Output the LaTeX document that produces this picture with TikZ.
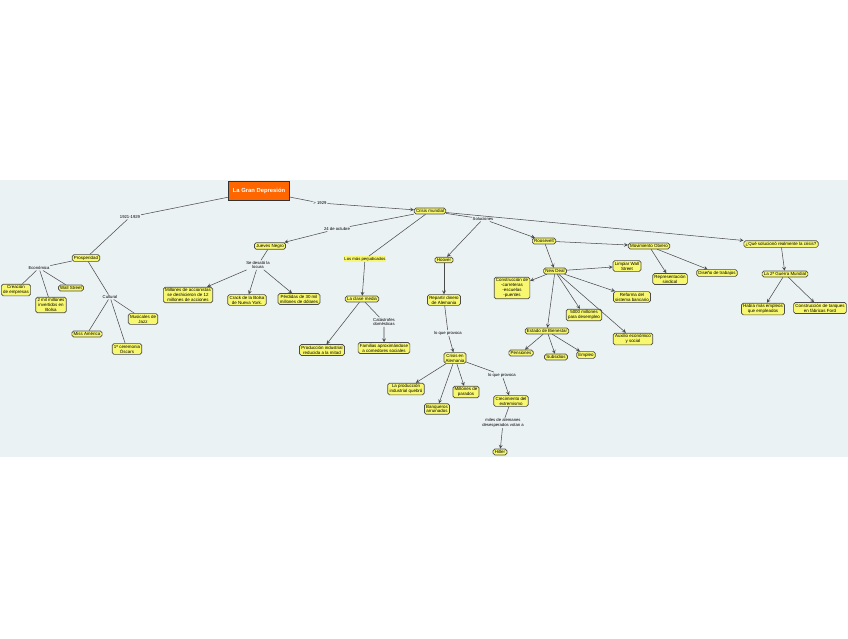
\documentclass[tikz,border=0pt]{standalone}
\usepackage{fontspec}
\setmainfont{Liberation Sans}
\usepackage{tikz}
\usetikzlibrary{positioning}

\definecolor{bgblue}{HTML}{EBF2F4}
\definecolor{conceptyellow}{HTML}{F8F870}
\definecolor{rootorange}{HTML}{FF6600}
\definecolor{edgegray}{HTML}{4A4A4A}

\tikzset{
  concept/.style={draw=black!70, fill=conceptyellow, rounded corners=1.5pt, line width=0.6pt,
    inner xsep=1.5pt, inner ysep=1.1pt, align=center, font=\fontsize{3.8}{4.2}\selectfont},
  linkword/.style={inner sep=0.6pt, align=center, font=\fontsize{3.6}{4.0}\selectfont},
  rootbox/.style={draw=black!80, fill=rootorange, text=white, line width=0.9pt,
    minimum width=52pt, minimum height=15.5pt, inner sep=1pt, font=\bfseries\fontsize{5}{6}\selectfont},
  link/.style={draw=edgegray, line width=0.45pt},
  linkarrow/.style={link, ->, >=stealth},
}

\begin{document}
\begin{tikzpicture}[on grid]
    \useasboundingbox (0,0) rectangle (25.44,-19.14);
    \fill[bgblue] (0,-5.40) rectangle (25.44,-13.71);

    \node[rootbox] (gran) at (7.77,-5.73) {La Gran Depresión};

    % prosperidad
    \node[linkword, below left=0.78cm and 3.87cm of gran] (anios) {1921-1929};
    \node[concept, below left=1.23cm and 1.32cm of anios] (prosp) {Prosperidad};
    \node[linkword, below left=0.30cm and 1.41cm of prosp] (econ) {Económica};
    \node[concept, below left=0.66cm and 0.69cm of econ] (creacion) {Creación\\de empresas};
    \node[concept, below right=1.11cm and 0.36cm of econ] (invert) {2 mil millones\\invertidos en\\Bolsa};
    \node[concept, below right=0.60cm and 0.96cm of econ] (wall) {Wall Street};
    \node[linkword, below right=1.17cm and 0.72cm of prosp] (cult) {Cultural};
    \node[concept, below left=1.11cm and 0.69cm of cult] (miss) {Miss América};
    \node[concept, below right=1.56cm and 0.51cm of cult] (oscars) {1ª ceremonia\\Óscars};
    \node[concept, below right=0.66cm and 0.99cm of cult] (jazz) {Musicales de\\Jazz};

    % crisis
    \node[linkword, below right=0.36cm and 1.83cm of gran] (despues) {> 1929};
    \node[concept, below right=0.24cm and 3.30cm of despues] (crisis) {Crisis mundial};
    \node[linkword, below left=0.54cm and 2.79cm of crisis] (octubre) {24 de octubre};
    \node[concept, below left=0.51cm and 2.01cm of octubre] (jueves) {Jueves Negro};
    \node[linkword, below left=0.57cm and 0.36cm of jueves] (locura) {Se desató la\\locura};
    \node[concept, below left=0.90cm and 2.10cm of locura] (accion) {Millones de accionistas\\se deshicieron de 12\\millones de acciones};
    \node[concept, below left=1.05cm and 0.33cm of locura] (crack) {Crack de la Bolsa\\de Nueva York.};
    \node[concept, below right=1.02cm and 1.23cm of locura] (perdidas) {Pérdidas de 30 mil\\millones de dólares};
    \node[linkword, fill=conceptyellow, below left=1.44cm and 1.95cm of crisis] (perjud) {Los más perjudicados};
    \node[concept, below left=1.20cm and 0.09cm of perjud] (clase) {La clase media};
    \node[concept, below left=1.53cm and 1.20cm of clase] (prod) {Producción industrial\\reducida a la mitad};
    \node[linkword, below right=0.69cm and 0.66cm of clase] (catast) {Catástrofes\\domésticas};
    \node[concept, below=0.78cm of catast] (familias) {Familias aproximándose\\a comedores sociales};

    % soluciones
    \node[linkword, below right=0.24cm and 1.59cm of crisis] (soluc) {Soluciones};
    \node[concept, below left=1.23cm and 1.17cm of soluc] (hoover) {Hoover};
    \node[concept, below=1.20cm of hoover] (repartir) {Repartir dinero\\de Alemania};
    \node[linkword, below right=0.99cm and 0.12cm of repartir] (provoca) {lo que provoca};
    \node[concept, below right=0.75cm and 0.21cm of provoca] (alemania) {Crisis en\\Alemania};
    \node[concept, below left=0.93cm and 1.47cm of alemania] (quebro) {La producción\\industrial quebró};
    \node[concept, below left=1.53cm and 0.54cm of alemania] (banq) {Banqueros\\arruinados};
    \node[concept, below right=1.02cm and 0.33cm of alemania] (parados) {Millones de\\parados};
    \node[linkword, below right=0.51cm and 1.41cm of alemania] (provocb) {lo que provoca};
    \node[concept, below right=0.78cm and 0.27cm of provocb] (extrem) {Crecimiento del\\extremismo};
    \node[linkword, below left=0.66cm and 0.24cm of extrem] (votan) {miles de alemanes\\desesperados votan a};
    \node[concept, below left=0.87cm and 0.09cm of votan] (hitler) {Hitler};

    \node[concept, below right=0.66cm and 1.83cm of soluc] (roos) {Roosevelt};
    \node[concept, below right=0.90cm and 0.33cm of roos] (deal) {New Deal};
    \node[concept, below left=0.51cm and 1.29cm of deal] (carret) {Construcción de\\-carreteras\\-escuelas\\-puentes};
    \node[concept, above right=0.15cm and 2.16cm of deal] (limpiar) {Limpiar Wall\\Street};
    \node[concept, below right=0.78cm and 2.31cm of deal] (reforma) {Reforma del\\sistema bancario};
    \node[concept, below right=1.32cm and 0.87cm of deal] (cinco) {5000 millones\\para desempleo};
    \node[concept, below right=2.04cm and 2.34cm of deal] (auxilio) {Auxilio económico\\y social};
    \node[concept, below left=1.80cm and 0.24cm of deal] (bienestar) {Estado de Bienestar};
    \node[concept, below left=0.66cm and 0.78cm of bienestar] (pens) {Pensiones};
    \node[concept, below right=0.78cm and 0.27cm of bienestar] (subs) {Subsidios};
    \node[concept, below right=0.72cm and 1.17cm of bienestar] (empleo) {Empleo};

    \node[concept, below right=0.15cm and 3.15cm of roos] (obrero) {Movimiento Obrero};
    \node[concept, below right=0.99cm and 0.63cm of obrero] (sindical) {Representación\\sindical};
    \node[concept, below right=0.81cm and 2.04cm of obrero] (diseno) {Diseño de trabajos};

    \node[concept, below right=0.99cm and 10.53cm of crisis] (realmente) {¿Qué solucionó realmente la crisis?};
    \node[concept, below right=0.90cm and 0.12cm of realmente] (guerra) {La 2ª Guerra Mundial};
    \node[concept, below left=1.05cm and 0.66cm of guerra] (mas) {Había más empleos\\que empleados};
    \node[concept, below right=1.02cm and 1.05cm of guerra] (tanques) {Construcción de tanques\\en fábricas Ford};

    \draw[link] (gran) -- (anios) -- (prosp);
    \draw[link] (prosp) -- (econ);
    \draw[link] (econ) -- (creacion);
    \draw[link] (econ) -- (invert);
    \draw[link] (econ) -- (wall);
    \draw[link] (prosp) -- (cult);
    \draw[link] (cult) -- (miss);
    \draw[link] (cult) -- (oscars);
    \draw[link] (cult) -- (jazz);

    \draw[linkarrow] (gran) -- (despues) -- (crisis);
    \draw[linkarrow] (crisis) -- (octubre) -- (jueves);
    \draw[link] (jueves) -- (locura);
    \draw[linkarrow] (locura) -- (accion);
    \draw[linkarrow] (locura) -- (crack);
    \draw[linkarrow] (locura) -- (perdidas);
    \draw[linkarrow] (crisis) -- (perjud) -- (clase);
    \draw[linkarrow] (clase) -- (prod);
    \draw[linkarrow] (clase) -- (catast) -- (familias);

    \draw[link] (crisis) -- (soluc);
    \draw[linkarrow] (soluc) -- (hoover);
    \draw[linkarrow] (hoover) -- (repartir);
    \draw[linkarrow] (repartir) -- (provoca) -- (alemania);
    \draw[linkarrow] (alemania) -- (quebro);
    \draw[linkarrow] (alemania) -- (banq);
    \draw[linkarrow] (alemania) -- (parados);
    \draw[linkarrow] (alemania) -- (provocb) -- (extrem);
    \draw[linkarrow] (extrem) -- (votan) -- (hitler);

    \draw[linkarrow] (soluc) -- (roos);
    \draw[linkarrow] (roos) -- (deal);
    \draw[linkarrow] (deal) -- (carret);
    \draw[linkarrow] (deal) -- (limpiar);
    \draw[linkarrow] (deal) -- (reforma);
    \draw[linkarrow] (deal) -- (cinco);
    \draw[linkarrow] (deal) -- (auxilio);
    \draw[linkarrow] (deal) -- (bienestar);
    \draw[linkarrow] (bienestar) -- (pens);
    \draw[linkarrow] (bienestar) -- (subs);
    \draw[linkarrow] (bienestar) -- (empleo);

    \draw[linkarrow] (roos) -- (obrero);
    \draw[linkarrow] (obrero) -- (sindical);
    \draw[linkarrow] (obrero) -- (diseno);

    \draw[linkarrow] (crisis) -- (realmente);
    \draw[linkarrow] (realmente) -- (guerra);
    \draw[linkarrow] (guerra) -- (mas);
    \draw[linkarrow] (guerra) -- (tanques);
\end{tikzpicture}
\end{document}
